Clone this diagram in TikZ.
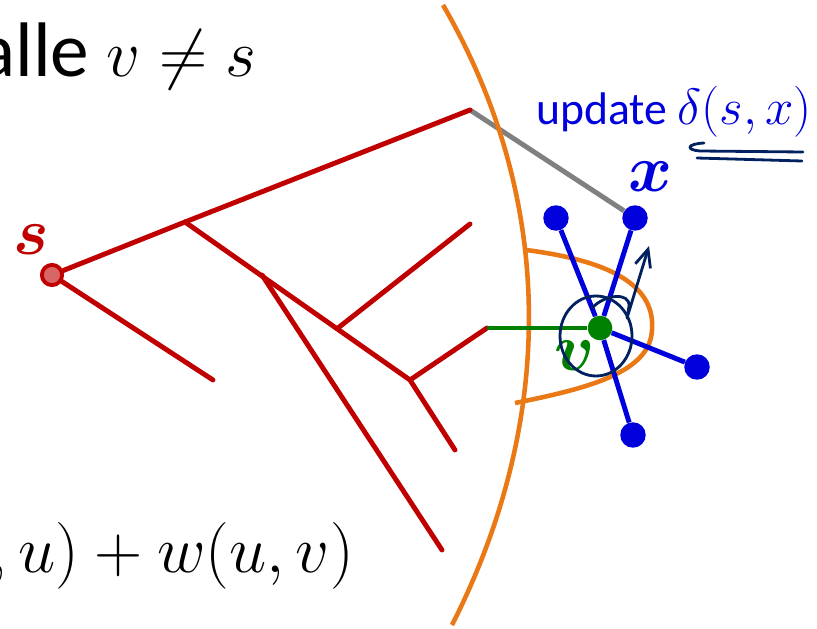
\RequirePackage{fix-cm}
\documentclass[tikz,border=0pt]{standalone}
\usepackage{amsmath,amssymb,bm}
\usepackage{fontspec}
\setmainfont{Carlito}
\usetikzlibrary{arrows.meta,calc,positioning}

\definecolor{treered}{RGB}{192,0,0}
\definecolor{cutorange}{RGB}{234,120,20}
\definecolor{nbrblue}{RGB}{0,0,220}
\definecolor{vgreen}{RGB}{0,128,0}
\definecolor{inknavy}{RGB}{0,32,96}

\begin{document}
\begin{tikzpicture}[
  x=0.02cm,y=-0.02cm,
  >=Latex,
  tree/.style={line width=2.8pt,treered,line cap=round},
  cut/.style={line width=2.6pt,cutorange},
  nbr/.style={line width=2.8pt,nbrblue},
  dot/.style={circle,fill=nbrblue,inner sep=0pt,minimum size=14.5pt},
  hand/.style={line width=1.6pt,inknavy,line cap=round,line join=round},
  big/.style={inner sep=0pt,font=\fontsize{44}{52}\selectfont},
  lbl/.style={inner sep=0pt,font=\fontsize{38}{44}\selectfont}
]
  \useasboundingbox (0,0) rectangle (817,628);

  % texts
  \node[big,anchor=base west] (title) at (-22,77)
    {alle {\fontsize{38}{46}\selectfont$v \neq s$}};
  \node[big,anchor=base east,font=\fontsize{38}{46}\selectfont] (formula)
    at (354,572) {$,u)+w(u,v)$};
  \node[inner sep=0pt,anchor=base west,nbrblue,font=\fontsize{26}{30}\selectfont]
    (upd) at (536,125) {update {\fontsize{29}{34}\selectfont$\delta(s,x)$}};

  % tree vertices
  \coordinate (top) at (470,110);
  \coordinate (low) at (213,380);
  \coordinate (j1) at (185,222);
  \coordinate (j2) at (262,275);
  \coordinate (j3) at (338,328);
  \coordinate (j4) at (410,380);
  \coordinate (e2) at (442,550);
  \coordinate (e3) at (470,224);
  \coordinate (e4) at (455,450);
  \coordinate (u) at (487,328);

  % neighbours of v
  \node[dot] (x) at (635,218) {};
  \node[dot] (n1) at (556,218) {};
  \node[dot] (n2) at (697,367) {};
  \node[dot] (n3) at (633,435) {};

  % tree edge to x
  \draw[line width=2.8pt,gray] (top) -- (x);

  % cut
  \draw[cut] (443,5) .. controls (556,200) and (556,420) .. (452,625);
  \draw[cut] (526,250) .. controls (620,262) and (655,290) .. (652,330)
    .. controls (650,372) and (590,388) .. (515,403);

  % shortest path tree
  \draw[tree] (j1) -- (top);
  \draw[tree] (j1) -- (j4);
  \draw[tree] (j2) -- (e2);
  \draw[tree] (j3) -- (e3);
  \draw[tree] (j4) -- (u);
  \draw[tree] (j4) -- (e4);

  \node[circle,draw=treered,line width=2.2pt,fill=treered!60!white,
    inner sep=0pt,minimum size=11.5pt] (s) at (52,275) {};
  \draw[tree] (s) -- (j1);
  \draw[tree] (s) -- (low);

  % v and its edges
  \node[circle,fill=vgreen,inner sep=0pt,minimum size=14pt] (v) at (600,328) {};
  \draw[line width=2.8pt,vgreen] (u) -- (v);
  \foreach \n in {x,n1,n2,n3}
    \draw[nbr] (v) -- (\n);

  % labels
  \node[lbl,treered] (lblS) at (31,240) {$\bm{s}$};
  \node[lbl,nbrblue] (lblX) at (650,177) {$\bm{x}$};
  \node[lbl,vgreen] (lblV) at (575,356) {$\bm{v}$};

  % handwriting
  \draw[hand] ([shift={(-4,8)}]v) ellipse [x radius=36,y radius=40];
  \coordinate (curl) at (592,308);
  \coordinate (tip) at (649,246);
  \draw[hand,-{Straight Barb[length=10pt,width=9pt]}] (curl)
    .. controls (605,294) and (630,292) .. (629,306)
    -- (627,318) -- (tip);
  \coordinate (ul2) at (697,158);
  \draw[hand] (704,143) .. controls (686,144) and (686,150) .. (700,151)
    -- (803,152);
  \draw[hand] (ul2) -- (802,161);
\end{tikzpicture}
\end{document}
